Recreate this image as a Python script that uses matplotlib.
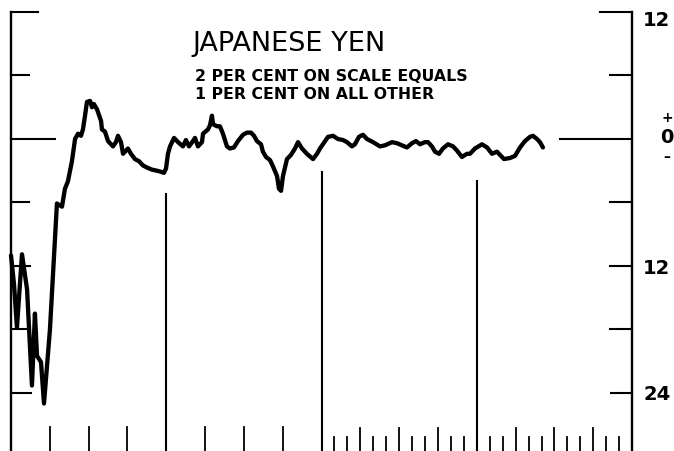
import matplotlib
matplotlib.use("Agg")
import matplotlib.pyplot as plt

# time in months from the start of the chart, value in per cent
months = [0.0, 0.23, 0.46, 0.85, 1.24, 1.62, 1.85, 2.01, 2.32, 2.55, 3.01, 3.55, 3.94, 4.17,
          4.40, 4.71, 4.95, 5.18, 5.41, 5.56, 5.72, 5.87, 6.11, 6.26, 6.41, 6.65, 6.96, 7.03,
          7.26, 7.50, 7.88, 8.11, 8.27, 8.50, 8.66, 8.89, 9.04, 9.27, 9.58, 9.89, 10.20, 10.51,
          10.90, 11.28, 11.59, 11.82, 11.98, 12.13, 12.29, 12.60, 12.91, 13.29, 13.52, 13.76,
          14.06, 14.22, 14.45, 14.76, 14.84, 15.22, 15.38, 15.53, 15.61, 15.92, 16.15, 16.38,
          16.69, 16.92, 17.23, 17.54, 17.93, 18.24, 18.55, 18.78, 19.01, 19.32, 19.47, 19.71,
          20.02, 20.25, 20.56, 20.71, 20.87, 21.02, 21.33, 21.64, 21.95, 22.18, 22.49, 22.87,
          23.34, 23.65, 23.88, 24.27, 24.50, 24.88, 25.27, 25.66, 25.97, 26.35, 26.58, 26.89,
          27.20, 27.51, 27.98, 28.52, 28.90, 29.44, 29.83, 30.22, 30.60, 30.99, 31.30, 31.61,
          31.99, 32.23, 32.53, 32.77, 33.08, 33.38, 33.77, 34.16, 34.47, 34.85, 35.24, 35.47,
          35.86, 36.40, 36.79, 37.17, 37.56, 37.87, 38.10, 38.56, 38.95, 39.34, 39.72, 40.11,
          40.34, 40.65, 40.88, 41.11]
yen = [-11.0, -13.7, -17.8, -10.9, -14.2, -23.3, -16.5, -20.5, -21.1, -25.0, -18.0, -6.1, -6.4, -4.7,
       -4.0, -2.1, 0.0, 0.5, 0.3, 0.9, 2.2, 3.5, 3.6, 3.0, 3.3, 2.8, 1.7, 0.9,
       0.7, -0.2, -0.7, -0.3, 0.3, -0.3, -1.4, -1.1, -0.9, -1.4, -1.9, -2.1, -2.5, -2.7,
       -2.9, -3.0, -3.1, -3.2, -2.8, -1.4, -0.7, 0.1, -0.3, -0.7, -0.1, -0.7,
       -0.2, 0.1, -0.7, -0.3, 0.5, 0.9, 1.3, 2.2, 1.4, 1.2, 1.2, 0.5,
       -0.7, -0.9, -0.8, -0.2, 0.4, 0.6, 0.6, 0.3, -0.2, -0.5, -1.2, -1.7,
       -2.0, -2.6, -3.5, -4.7, -4.9, -3.5, -1.9, -1.5, -0.9, -0.3, -0.9, -1.4,
       -1.9, -1.4, -0.9, -0.2, 0.2, 0.3, 0.0, -0.1, -0.3, -0.7, -0.5, 0.2,
       0.4, 0.0, -0.3, -0.7, -0.6, -0.3, -0.4, -0.6, -0.8, -0.4, -0.2, -0.5,
       -0.3, -0.3, -0.7, -1.2, -1.4, -0.9, -0.5, -0.7, -1.1, -1.7, -1.4, -1.4,
       -0.9, -0.5, -0.8, -1.4, -1.2, -1.6, -1.9, -1.8, -1.6, -0.8, -0.2, 0.2,
       0.3, 0.0, -0.3, -0.8]

scale_levels = [12, 6, 0, -6, -12, -18, -24]
right_labels = {12: "12", -12: "12", -24: "24"}
year_lines = [12, 24, 36]
year_line_tops = [-5.2, -3.1, -4.0]
quarter_ticks = [3, 6, 9, 15, 18, 21]
month_ticks = [m for m in range(25, 48) if m != 36]

fig = plt.figure(figsize=(6.74, 4.52), dpi=100)
ax = fig.add_axes([0, 0, 1, 1])
ax.set_xlim(-0.85, 51.24)
ax.set_ylim(-29.49, 13.23)
ax.axis("off")
bottom = -29.49

# frame: left and right scales
ax.plot([0, 0], [12, bottom], color="black", lw=1.7)
ax.plot([48, 48], [12, bottom], color="black", lw=1.7)
left_len = {12: 2.1, 6: 1.4, 0: 3.4, -6: 1.4, -12: 1.5, -18: 1.35, -24: 1.55}
right_len = {12: 2.5, 6: 1.7, 0: 5.6, -6: 1.7, -12: 1.7, -18: 1.7, -24: 1.6}
for lv in scale_levels:
    ax.plot([0, left_len[lv]], [lv, lv], color="black", lw=1.5)
    ax.plot([48 - right_len[lv], 48], [lv, lv], color="black", lw=1.5)

# year dividers and time ticks
for m, top in zip(year_lines, year_line_tops):
    ax.plot([m, m], [top, bottom], color="black", lw=1.5)
for m in quarter_ticks:
    ax.plot([m, m], [bottom + 2.3, bottom], color="black", lw=1.3)
for m in month_ticks:
    h = 2.2 if m % 3 == 0 else 1.35
    ax.plot([m, m], [bottom + h, bottom], color="black", lw=1.3)

ax.plot(months, yen, color="black", lw=3.1, solid_joinstyle="round", solid_capstyle="round")

# right-hand labels
for lv, txt in right_labels.items():
    off = -0.75 if lv == 12 else -0.1
    ax.text(49.9, lv + off, txt, fontsize=14, fontweight="bold", ha="center", va="center")
ax.text(50.7, 2.1, "+", fontsize=10, fontweight="bold", ha="center", va="center")
ax.text(50.7, 0.2, "0", fontsize=14, fontweight="bold", ha="center", va="center")
ax.text(50.7, -1.6, "\u2013", fontsize=10, fontweight="bold", ha="center", va="center")

ax.text(14.05, 9.1, "JAPANESE YEN", fontsize=19.5, ha="left", va="center")
ax.text(14.2, 6.0, "2 PER CENT ON SCALE EQUALS", fontsize=11.3, fontweight="bold", ha="left", va="center")
ax.text(14.2, 4.3, "1 PER CENT ON ALL OTHER", fontsize=11.3, fontweight="bold", ha="left", va="center")

fig.savefig("out.png", dpi=100)
